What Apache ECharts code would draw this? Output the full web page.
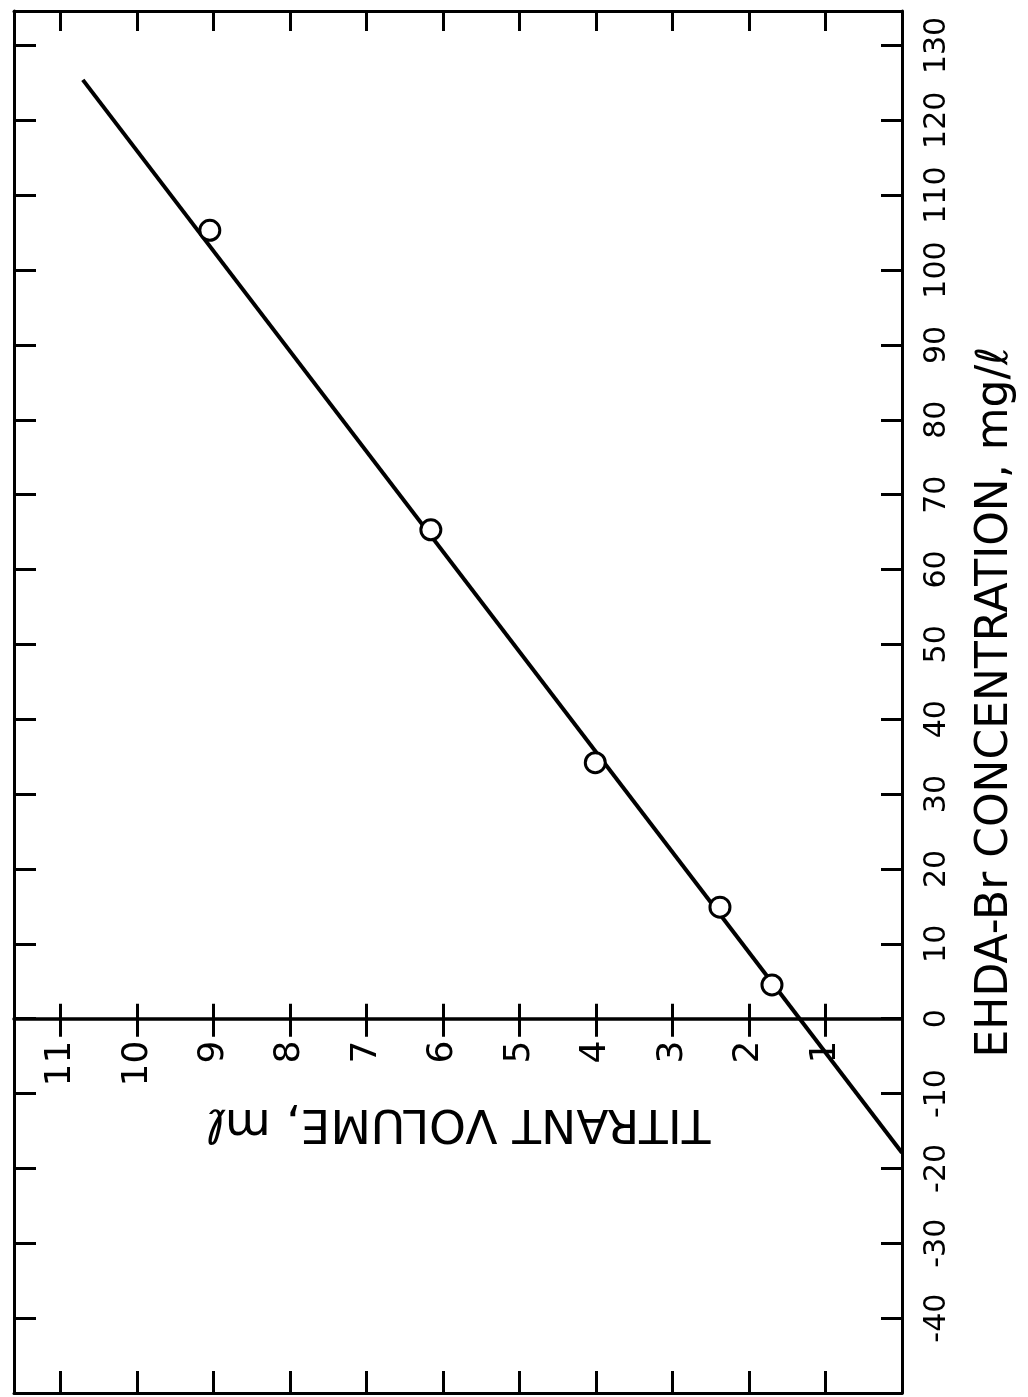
<!DOCTYPE html>
<html>
<head>
<meta charset="utf-8">
<title>EHDA-Br calibration</title>
<script src="https://cdn.jsdelivr.net/npm/echarts@6/dist/echarts.min.js"></script>
<style>
  html, body { margin: 0; padding: 0; background: #ffffff; }
  #chart { width: 1028px; height: 1397px; }
</style>
</head>
<body>
<div id="chart"></div>
<script>
// Tick labels on both axes
const concTickLabels = [-40, -30, -20, -10, 0, 10, 20, 30, 40, 50, 60, 70, 80, 90, 100, 110, 120, 130];
const volumeTickLabels = [1, 2, 3, 4, 5, 6, 7, 8, 9, 10, 11];

// Measured standards: titrant volume (mL) against EHDA-Br concentration (mg/L)
const measuredVolume = [9.05, 6.16, 4.01, 2.38, 1.70];
const measuredConc = [105.3, 65.3, 34.2, 14.9, 4.5];

// Calibration line end points
const fitVolume = [10.71, 0];
const fitConc = [125.4, -17.9];

// Axis ranges
const VOL_MIN = 0, VOL_MAX = 11.61;
const CONC_MIN = -50, CONC_MAX = 134.6;

const INK = '#000000';
const FONT = 'DejaVu Sans';

const measuredPoints = measuredVolume.map((v, i) => [v, measuredConc[i]]);
const fitPoints = fitVolume.map((v, i) => [v, fitConc[i]]);

// Plot frame
const CHART_H = 1397;
const FRAME = { left: 14, right: 126, top: 11, bottom: 4 };
const plotH = CHART_H - FRAME.top - FRAME.bottom;
// pixel row of zero concentration, where the volume axis runs
const zeroY = FRAME.top + (CONC_MAX - 0) / (CONC_MAX - CONC_MIN) * plotH;

function gridAt(extra) {
  return Object.assign({ show: false, containLabel: false, outerBoundsMode: 'none' }, FRAME, extra);
}

function volumeAxis(extra) {
  return Object.assign({
    type: 'value', inverse: true, min: VOL_MIN, max: VOL_MAX, interval: 1,
    splitLine: { show: false },
    axisLabel: { show: false },
    axisLine: { onZero: false, lineStyle: { color: INK, width: 3 } },
    axisTick: { lineStyle: { color: INK, width: 3 } }
  }, extra);
}
function concAxis(extra) {
  return Object.assign({
    type: 'value', min: CONC_MIN, max: CONC_MAX, interval: 10,
    splitLine: { show: false },
    axisLabel: { show: false },
    axisLine: { onZero: false, lineStyle: { color: INK, width: 3 } },
    axisTick: { inside: true, length: 21, lineStyle: { color: INK, width: 3 } }
  }, extra);
}
function hiddenConcAxis(gridIndex) {
  return { type: 'value', gridIndex: gridIndex, show: false, min: CONC_MIN, max: CONC_MAX };
}

const chart = echarts.init(document.getElementById('chart'), null, { renderer: 'canvas' });

chart.setOption({
  animation: false,
  backgroundColor: '#ffffff',
  grid: [
    gridAt({}),                                   // 0: data area
    gridAt({}),                                   // 1: frame ticks top/bottom
    gridAt({ bottom: CHART_H - zeroY }),          // 2: volume axis (lower ticks, labels)
    gridAt({ top: zeroY })                        // 3: volume axis (upper ticks)
  ],
  xAxis: [
    volumeAxis({ gridIndex: 0, show: false }),
    // frame: bottom edge
    volumeAxis({
      gridIndex: 1, position: 'bottom',
      axisTick: { inside: true, length: 22, lineStyle: { color: INK, width: 3 } }
    }),
    // frame: top edge
    volumeAxis({
      gridIndex: 1, position: 'top',
      axisTick: { inside: true, length: 20, lineStyle: { color: INK, width: 3 } }
    }),
    // titrant volume axis along zero concentration
    volumeAxis({
      gridIndex: 2, position: 'bottom',
      axisLine: { onZero: false, lineStyle: { color: INK, width: 3.5 } },
      axisTick: { inside: false, length: 18, lineStyle: { color: INK, width: 3 } },
      axisLabel: {
        show: true, rotate: 90, margin: 22, color: INK,
        fontFamily: FONT, fontSize: 36,
        formatter: v => volumeTickLabels.includes(Math.round(v * 100) / 100) ? String(v) : ''
      },
      name: 'TITRANT VOLUME, m\u2113',
      nameLocation: 'middle', nameRotate: 180, nameGap: 80,
      nameTextStyle: { color: INK, fontFamily: FONT, fontSize: 47 }
    }),
    // upper half of the crossing ticks
    volumeAxis({
      gridIndex: 3, position: 'top',
      axisLine: { show: false, onZero: false },
      axisTick: { inside: false, length: 15, lineStyle: { color: INK, width: 3 } }
    })
  ],
  yAxis: [
    // concentration axis on the right edge, with labels
    concAxis({
      gridIndex: 0, position: 'right',
      axisLabel: {
        show: true, rotate: 90, margin: 20, color: INK,
        fontFamily: FONT, fontSize: 30,
        formatter: v => concTickLabels.includes(Math.round(v * 100) / 100) ? String(v) : ''
      },
      name: 'EHDA-Br CONCENTRATION, mg/\u2113',
      nameLocation: 'middle', nameRotate: 90, nameGap: 72,
      nameTextStyle: { color: INK, fontFamily: FONT, fontSize: 44 }
    }),
    // frame: left edge
    concAxis({ gridIndex: 0, position: 'left', axisTick: { inside: true, length: 22, lineStyle: { color: INK, width: 3 } } }),
    hiddenConcAxis(1),
    hiddenConcAxis(2),
    hiddenConcAxis(3)
  ],
  series: [
    {
      name: 'calibration',
      type: 'line',
      xAxisIndex: 0, yAxisIndex: 0,
      data: fitPoints,
      showSymbol: false, symbol: 'none',
      lineStyle: { color: INK, width: 4 },
      z: 3
    },
    {
      name: 'standards',
      type: 'scatter',
      xAxisIndex: 0, yAxisIndex: 0,
      data: measuredPoints,
      symbol: 'circle', symbolSize: 20,
      itemStyle: { color: '#ffffff', borderColor: INK, borderWidth: 3, opacity: 1 },
      z: 4
    }
  ]
});
</script>
</body>
</html>
